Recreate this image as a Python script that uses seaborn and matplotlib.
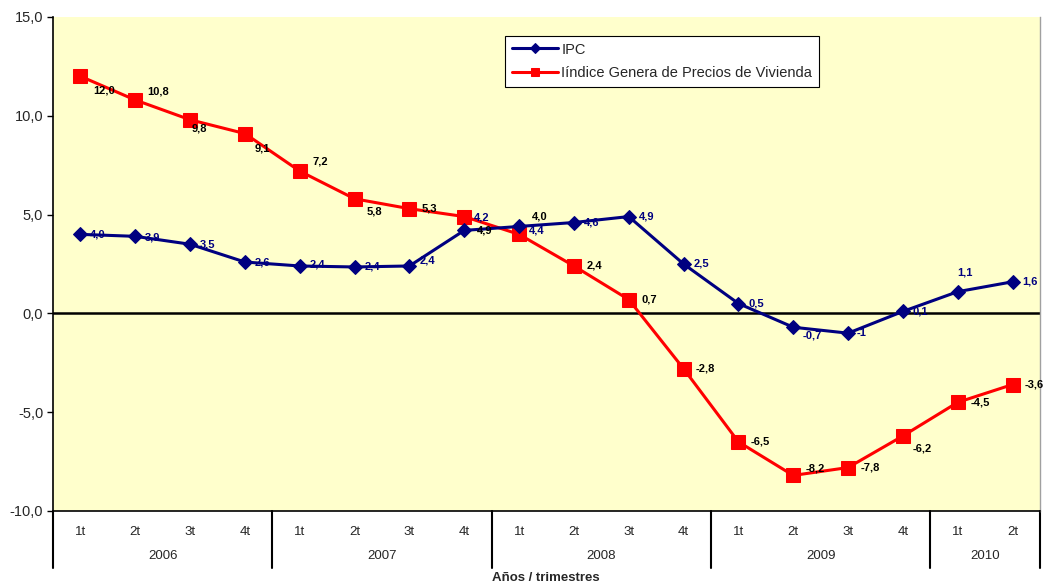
import matplotlib
matplotlib.use("Agg")
import matplotlib.pyplot as plt
import matplotlib.transforms as mtransforms
import numpy as np
import pandas as pd
import seaborn as sns

# data
years = ["2006", "2007", "2008", "2009", "2010"]
quarters_per_year = [4, 4, 4, 4, 2]
quarter_names = ["1t", "2t", "3t", "4t"]

ipc = [4.0, 3.9, 3.5, 2.6, 2.4, 2.35, 2.4, 4.2, 4.4, 4.6, 4.9, 2.5,
       0.5, -0.7, -1.0, 0.1, 1.1, 1.6]
ipc_labels = ["4,0", "3,9", "3,5", "2,6", "2,4", "2,4", "2,4", "4,2", "4,4",
              "4,6", "4,9", "2,5", "0,5", "-0,7", "-1", "0,1", "1,1", "1,6"]
vivienda = [12.0, 10.8, 9.8, 9.1, 7.2, 5.8, 5.3, 4.9, 4.0, 2.4, 0.7, -2.8,
            -6.5, -8.2, -7.8, -6.2, -4.5, -3.6]
viv_labels = ["12,0", "10,8", "9,8", "9,1", "7,2", "5,8", "5,3", "4,9", "4,0",
              "2,4", "0,7", "-2,8", "-6,5", "-8,2", "-7,8", "-6,2", "-4,5", "-3,6"]

# label offsets in points (dx, dy)
ipc_off = [(7, 0), (7, -1), (7, 0), (7, 0), (7, 1), (7, 0), (7, 4), (7, 9),
           (7, -3), (7, 0), (7, 0), (7, 0), (7, 0), (7, -6), (6, 0), (7, 0),
           (0, 14), (7, 0)]
viv_off = [(9, -10), (9, 6), (1, -6), (7, -11), (9, 7), (9, -9), (9, 0),
           (9, -10), (9, 13), (9, 0), (9, 0), (9, 0), (9, 0), (9, 5), (9, 0),
           (7, -9), (9, 0), (9, 0)]

n = len(ipc)
x = np.arange(n)
quarters = [quarter_names[i] for c in quarters_per_year for i in range(c)]

df = pd.DataFrame({"x": x, "ipc": ipc, "viv": vivienda})

sns.set_style("white")
plt.rcParams["font.family"] = ["Liberation Sans", "DejaVu Sans"]
narrow = ["Liberation Sans Narrow", "Liberation Sans"]

fig = plt.figure(figsize=(10.47, 5.85), dpi=100)
ax = fig.add_axes([53 / 1047, 1 - 511 / 585, (1040 - 53) / 1047, (511 - 17) / 585])
ax.set_facecolor("#FFFFCC")

navy = "#000080"
red = "#FF0000"
sns.lineplot(data=df, x="x", y="ipc", ax=ax, color=navy, marker="D",
             markersize=7, markeredgecolor=navy, linewidth=2.2,
             label="IPC", zorder=4)
sns.lineplot(data=df, x="x", y="viv", ax=ax, color=red, marker="s",
             markersize=9.5, markeredgecolor=red, linewidth=2.2,
             label="Iíndice Genera de Precios de Vivienda", zorder=3)

ax.axhline(0, color="black", linewidth=1.8, zorder=2)

for i in range(n):
    ax.annotate(ipc_labels[i], (x[i], ipc[i]), xytext=ipc_off[i],
                textcoords="offset points", ha="left", va="center",
                fontsize=8, fontweight="bold", color=navy, zorder=6)
    ax.annotate(viv_labels[i], (x[i], vivienda[i]), xytext=viv_off[i],
                textcoords="offset points", ha="left", va="center",
                fontsize=8, fontweight="bold", color="black", zorder=6)

ax.set_xlim(-0.5, n - 0.5)
ax.set_ylim(-10, 15)
ax.set_yticks([-10, -5, 0, 5, 10, 15])
ax.set_yticklabels(["-10,0", "-5,0", "0,0", "5,0", "10,0", "15,0"], fontsize=10.5)
ax.tick_params(axis="y", length=4, width=1, color="black", left=True, pad=3)

ax.set_xticks(x)
ax.set_xticklabels(quarters, fontsize=9.5, family=narrow)
ax.tick_params(axis="x", length=0, pad=11)
ax.set_xlabel("")
ax.set_ylabel("")

ax.spines["top"].set_visible(False)
ax.spines["left"].set_color("black")
ax.spines["left"].set_linewidth(1.2)
ax.spines["bottom"].set_color("black")
ax.spines["bottom"].set_linewidth(1.2)
ax.spines["right"].set_color("#A0A0A0")
ax.spines["right"].set_linewidth(1)

# year group labels and separators below the axis
trans = mtransforms.blended_transform_factory(ax.transData, ax.transAxes)
bounds = np.concatenate([[0], np.cumsum(quarters_per_year)]) - 0.5
for b in bounds:
    ax.plot([b, b], [0, -57 / 494], transform=trans, color="black",
            linewidth=1.5, clip_on=False)
for k, yr in enumerate(years):
    mid = (bounds[k] + bounds[k + 1]) / 2
    ax.text(mid, -45 / 494, yr, transform=trans, ha="center", va="center",
            fontsize=9.5, family=narrow)

fig.text(546 / 1047, 1 - 578 / 585, "Años / trimestres", ha="center",
         va="center", fontsize=9.5, fontweight="bold", family=narrow)

leg = ax.legend(loc="upper left", bbox_to_anchor=((505 - 53) / 987, (511 - 36) / 494),
                frameon=True, fancybox=False, framealpha=1, edgecolor="black",
                fontsize=10.5, handlelength=3.2, handletextpad=0.2,
                borderpad=0.45, labelspacing=0.65, borderaxespad=0)
leg.get_frame().set_linewidth(0.8)
leg.get_frame().set_facecolor("white")
for h in leg.get_lines():
    h.set_markersize(5.5)

fig.savefig("out.png", dpi=100, facecolor="white")
